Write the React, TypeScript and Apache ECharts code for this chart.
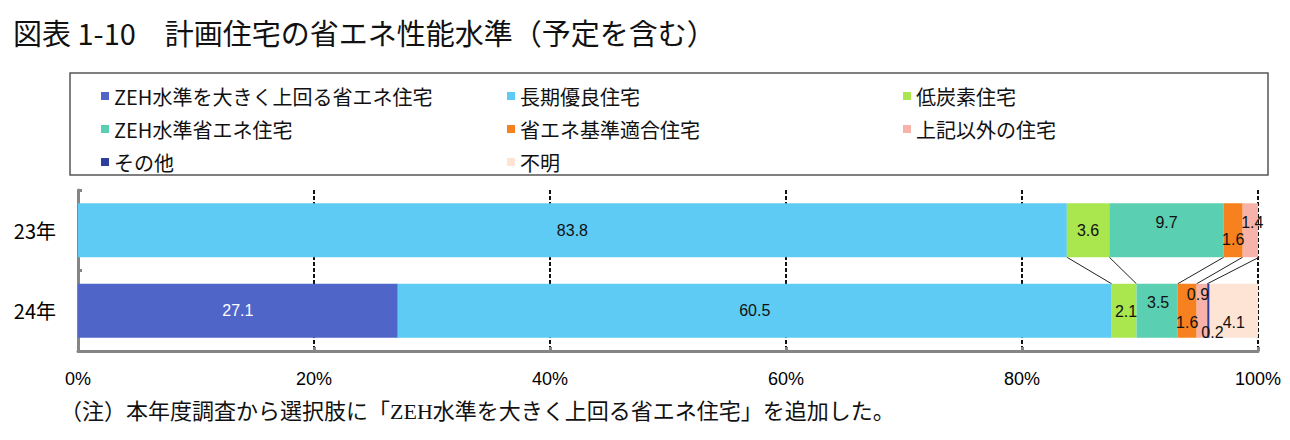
import React, { useEffect, useRef } from 'react';
import * as echarts from 'echarts';

const categories = ['23年', '24年'];
const seriesNames = [
  'ZEH水準を大きく上回る省エネ住宅',
  '長期優良住宅',
  '低炭素住宅',
  'ZEH水準省エネ住宅',
  '省エネ基準適合住宅',
  '上記以外の住宅',
  'その他',
  '不明',
];
const seriesColors = ['#4f65c8', '#5ecbf4', '#aae64e', '#5bcfb1', '#f7801f', '#f7b2aa', '#2c3e9e', '#fde4d4'];
const values23 = [0, 83.8, 3.6, 9.7, 1.6, 1.4, 0, 0];
const values24 = [27.1, 60.5, 2.1, 3.5, 1.6, 0.9, 0.2, 4.1];
const xTicks = [0, 20, 40, 60, 80, 100];
// series boundaries joined by the connector lines (end of series index)
const connectorEnds = [1, 2, 3, 4, 5];

// label nudges per series: [23年, 24年]
const labelOffsets: [number, number][][] = [
  [[0, 0], [0, 0]],
  [[0, 0], [0, 0]],
  [[0, 0], [2, 1]],
  [[0, -8], [1, -8]],
  [[0, 9], [0, 12]],
  [[2, -8], [-4, -16]],
  [[0, 0], [4, 22]],
  [[0, 0], [0, 12]],
];

const title = '図表 1-10　計画住宅の省エネ性能水準（予定を含む）';
const note = '（注）本年度調査から選択肢に「ZEH水準を大きく上回る省エネ住宅」を追加した。';

const legendColumns = [
  [0, 3, 6],
  [1, 4, 7],
  [2, 5],
];
const legendLefts = [96, 502, 898];

const BAR_RATIO = 0.67;
const jp = "'Noto Sans CJK JP', sans-serif";
const num = "'Liberation Sans', Arial, sans-serif";

const cum = (arr: number[], end: number) => arr.slice(0, end + 1).reduce((a, b) => a + b, 0);

const App: React.FC = () => {
  const chartRef = useRef<HTMLDivElement>(null);

  useEffect(() => {
    if (!chartRef.current) return;
    const chart = echarts.init(chartRef.current, null, { renderer: 'svg' });

    const barSeries = seriesNames.map((name, i) => ({
      name,
      type: 'bar',
      stack: 'total',
      barWidth: `${BAR_RATIO * 100}%`,
      itemStyle: { color: seriesColors[i] },
      data: [values23[i], values24[i]].map((v, c) => ({
        value: v,
        label: {
          show: v > 0,
          position: 'inside',
          offset: labelOffsets[i][c],
          color: i === 0 ? '#ffffff' : '#111111',
        },
      })),
      label: {
        fontSize: 16,
        fontFamily: num,
        formatter: (p: any) => (p.value ? Number(p.value).toFixed(1) : ''),
      },
    }));

    const connectorData = connectorEnds.map((k) => [cum(values23, k), 0, cum(values24, k)]);

    const option = {
      animation: false,
      title: {
        text: title,
        left: 8,
        top: 12,
        textStyle: { fontSize: 29, fontWeight: 'normal', color: '#111', fontFamily: jp },
      },
      legend: legendColumns.map((col, j) => ({
        orient: 'vertical',
        left: legendLefts[j],
        top: 81,
        itemWidth: 8,
        itemHeight: 8,
        itemGap: 13,
        icon: 'rect',
        selectedMode: false,
        data: col.map((i) => seriesNames[i]),
        textStyle: { fontSize: 20, lineHeight: 20, color: '#111', fontFamily: jp },
      })),
      grid: { left: 78, right: 32, top: 190, bottom: 89 },
      xAxis: {
        type: 'value',
        min: xTicks[0],
        max: xTicks[xTicks.length - 1],
        interval: xTicks[1] - xTicks[0],
        axisLine: { show: true, lineStyle: { color: '#858585', width: 3 } },
        axisTick: { show: true, inside: true, length: 4, lineStyle: { color: '#858585', width: 3 } },
        axisLabel: {
          margin: 19,
          fontSize: 18,
          color: '#000',
          fontFamily: num,
          formatter: '{value}%',
        },
        splitLine: { show: true, lineStyle: { color: '#111', width: 2, type: [4, 2] } },
      },
      yAxis: {
        type: 'category',
        inverse: true,
        data: categories,
        axisLine: { show: true, lineStyle: { color: '#858585', width: 3 } },
        axisTick: { show: true, inside: true, length: 4, lineStyle: { color: '#858585', width: 3 } },
        axisLabel: { margin: 22, fontSize: 20, color: '#000', fontFamily: jp },
      },
      graphic: [
        {
          type: 'rect',
          shape: { x: 70, y: 73, width: 1198, height: 102 },
          style: { fill: 'none', stroke: '#555', lineWidth: 1.5 },
          silent: true,
        },
        {
          type: 'text',
          left: 60,
          top: 400,
          style: {
            text: note,
            fontSize: 22,
            fill: '#111',
            fontFamily: "'Liberation Serif', 'Noto Sans CJK JP', serif",
          },
        },
      ],
      series: [
        ...barSeries,
        {
          type: 'custom',
          name: 'connector',
          silent: true,
          encode: { x: 0, y: 1 },
          data: connectorData,
          renderItem: (_params: any, api: any) => {
            const p1 = api.coord([api.value(0), 0]);
            const p2 = api.coord([api.value(2), 1]);
            const half = (Math.abs(api.size([0, 1])[1]) * BAR_RATIO) / 2;
            return {
              type: 'line',
              shape: { x1: p1[0], y1: p1[1] + half, x2: p2[0], y2: p2[1] - half },
              style: { stroke: '#222', lineWidth: 1 },
            };
          },
        },
      ],
    };

    chart.setOption(option as any);
    return () => {
      chart.dispose();
    };
  }, []);

  return (
    <div
      ref={chartRef}
      style={{ position: 'fixed', left: 0, top: 0, width: 1290, height: 440, background: '#fff' }}
    />
  );
};

export default App;
